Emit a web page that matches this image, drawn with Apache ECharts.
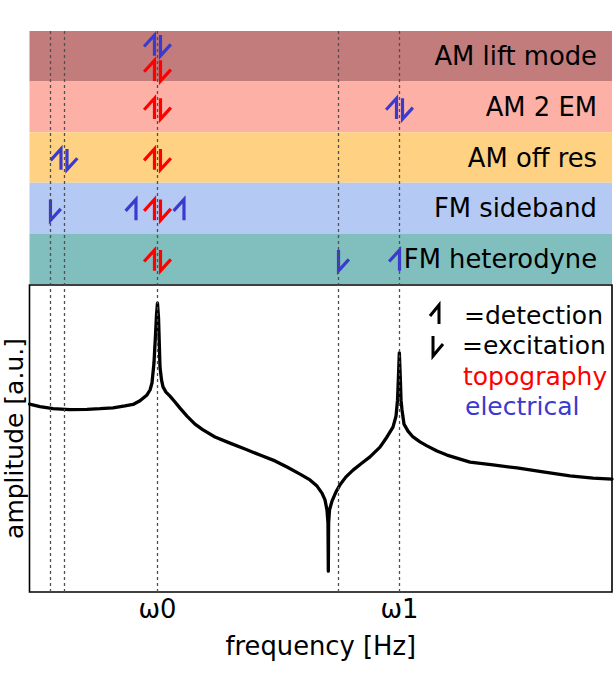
<!DOCTYPE html>
<html><head><meta charset="utf-8">
<script src="https://cdn.jsdelivr.net/npm/echarts@6/dist/echarts.min.js"></script>
<style>html,body{margin:0;padding:0;background:#fff}#c{width:614px;height:674px}</style>
</head><body><div id="c"></div>
<script>
// ---------- data ----------
const bandNames = ['AM lift mode', 'AM 2 EM', 'AM off res', 'FM sideband', 'FM heterodyne'];
const w0 = 21.97, w1 = 63.52;
const guideFreqs = [3.6, 5.92, w0, 53.05, w1];
const tickValues = [w0, w1];
const tickLabels = ['ω0', 'ω1'];
const freq = [0, 1.8, 4.03, 6.95, 9.87, 12.1, 14.33, 16.39, 17.77, 18.97, 20.17, 20.69, 21.03, 21.37, 21.63,
  21.8, 21.97, 22.15, 22.23, 22.4, 22.66, 22.92, 23.43, 24.12, 24.98, 25.84, 27.04, 28.41, 29.79, 31.85,
  34.42, 37.0, 39.57, 42.15, 44.21, 46.44, 48.15, 49.36, 50.21, 50.73, 51.07, 51.24, 51.3, 51.35, 51.5,
  51.93, 52.62, 53.3, 54.33, 55.54, 57.08, 58.45, 60.17, 61.37, 62.4, 62.92, 63.18, 63.35, 63.49, 63.66,
  63.78, 63.95, 64.29, 64.98, 65.84, 67.04, 68.24, 69.96, 71.67, 75.62, 79.57, 83.69, 88.15, 92.79, 96.74, 100];
const amp = [61.2, 60.4, 59.7, 59.4, 59.5, 59.7, 60.0, 60.6, 61.1, 62.3, 64.2, 65.8, 68.1, 74.6, 83.7,
  90.2, 94.1, 89.3, 84.4, 73.3, 69.1, 66.8, 65.1, 63.8, 61.9, 59.9, 57.3, 54.7, 52.8, 50.5,
  48.5, 46.6, 44.6, 42.7, 40.7, 38.4, 36.5, 34.5, 32.2, 30.0, 26.7, 22.5, 6.8, 22.5, 26.7,
  29.6, 32.6, 34.9, 37.5, 39.7, 42.0, 44.0, 47.2, 50.5, 53.7, 57.3, 62.5, 70.7, 77.9, 69.7,
  62.5, 59.3, 54.7, 52.4, 50.5, 48.9, 47.6, 45.9, 44.6, 42.3, 41.4, 40.4, 39.1, 37.8, 37.1, 36.8];
// harpoon marks: frequency, band row, lane (-1 upper, 0 middle, 1 lower), kind, signal
const markFreq   = [w0, w0, w0, w1, 5.92, w0, 3.6, 18.28, w0, 26.52, w0, 53.05, w1];
const markRow    = [0, 0, 1, 1, 2, 2, 3, 3, 3, 3, 4, 4, 4];
const markLane   = [-1, 1, 0, 0, 0, 0, 0, 0, 0, 0, 0, 0, 0];
const markKind   = ['pair', 'pair', 'pair', 'pair', 'pair', 'pair', 'exc', 'det', 'pair', 'det', 'pair', 'exc', 'det'];
const markSignal = ['electrical', 'topography', 'topography', 'electrical', 'electrical', 'topography',
  'electrical', 'electrical', 'topography', 'electrical', 'topography', 'electrical', 'electrical'];
const legendKinds = ['=detection', '=excitation'];
const signalNames = ['topography', 'electrical'];
const xName = 'frequency [Hz]';
const yName = 'amplitude [a.u.]';

// ---------- style ----------
const FONT = 'DejaVu Sans';
const FS = 25;
const FS_BAND = 25.8;
const bandColors = ['#c27c7c', '#fdb1a6', '#fed282', '#b4caf4', '#80bfbd'];
const signalColors = { topography: '#ff0000', electrical: '#3a3acf' };
const guideStyle = { type: [3, 3], color: '#505050', width: 1.3 };

function harpoon(kind, sx, cy, h, color) {
  const bw = h * 0.5, bh = h * 0.55;
  let pts;
  if (kind === 'det') pts = [[sx - bw, cy - h / 2 + bh], [sx, cy - h / 2], [sx, cy + h / 2]];
  else pts = [[sx, cy - h / 2], [sx, cy + h / 2], [sx + bw, cy + h / 2 - bh]];
  return { type: 'polyline', shape: { points: pts }, style: { stroke: color, lineWidth: 3.2, fill: null, lineJoin: 'miter' } };
}

const chart = echarts.init(document.getElementById('c'), null, { renderer: 'svg' });

const option = {
  animation: false,
  grid: [
    { left: 29.5, right: 2, top: 31, height: 253, containLabel: false, outerBoundsMode: 'none' },
    { left: 29.5, right: 2, top: 285, bottom: 82, containLabel: false, outerBoundsMode: 'none',
      show: true, borderColor: '#000', borderWidth: 1.6, backgroundColor: 'transparent' }
  ],
  xAxis: [
    { gridIndex: 0, type: 'value', min: 0, max: 100, show: false },
    { gridIndex: 1, type: 'value', min: 0, max: 100,
      axisLine: { show: false }, axisTick: { show: false }, splitLine: { show: false },
      axisLabel: {
        customValues: tickValues, margin: 4, fontSize: FS_BAND, fontFamily: FONT, color: '#000',
        formatter: function (v) {
          let best = 0;
          for (let i = 0; i < tickValues.length; i++) if (Math.abs(tickValues[i] - v) < Math.abs(tickValues[best] - v)) best = i;
          return tickLabels[best];
        }
      },
      name: xName, nameLocation: 'middle', nameGap: 41,
      nameTextStyle: { fontSize: FS_BAND, fontFamily: FONT, color: '#000' }
    }
  ],
  yAxis: [
    { gridIndex: 0, type: 'value', min: 0, max: 5, inverse: true, show: false },
    { gridIndex: 1, type: 'value', min: 0, max: 100,
      axisLine: { show: false }, axisTick: { show: false }, splitLine: { show: false }, axisLabel: { show: false },
      name: yName, nameLocation: 'middle', nameGap: 3,
      nameTextStyle: { fontSize: FS, fontFamily: FONT, color: '#000' }
    }
  ],
  series: [
    {
      type: 'custom', xAxisIndex: 0, yAxisIndex: 0, z: 1, silent: true,
      data: bandNames.map((n, i) => [0, i]),
      encode: { x: 0, y: 1 },
      renderItem: function (params, api) {
        const i = api.value(1);
        const cs = params.coordSys;
        const y0 = api.coord([0, i])[1], y1 = api.coord([0, i + 1])[1];
        return { type: 'group', children: [
          { type: 'rect', shape: { x: cs.x, y: Math.min(y0, y1), width: cs.width, height: Math.abs(y1 - y0) },
            style: { fill: bandColors[i] } },
          { type: 'text', x: cs.x + cs.width - 15, y: (y0 + y1) / 2,
            style: { text: bandNames[i], align: 'right', verticalAlign: 'middle', fontSize: FS_BAND, fontFamily: FONT, fill: '#000' } }
        ] };
      }
    },
    {
      type: 'custom', xAxisIndex: 0, yAxisIndex: 0, z: 3, silent: true,
      data: markFreq.map((f, i) => [f, markRow[i] + 0.535 + markLane[i] * 0.25]),
      encode: { x: 0, y: 1 },
      renderItem: function (params, api) {
        const k = params.dataIndex;
        const p = api.coord([api.value(0), api.value(1)]);
        const bandH = Math.abs(api.size([0, 1])[1]);
        const h = bandH * 0.41;
        const color = signalColors[markSignal[k]];
        const kind = markKind[k];
        let children;
        if (kind === 'pair') children = [harpoon('det', p[0] - 3, p[1], h, color), harpoon('exc', p[0] + 3, p[1], h, color)];
        else children = [harpoon(kind, p[0], p[1], h, color)];
        return { type: 'group', children: children };
      },
      markLine: {
        silent: true, symbol: ['none', 'none'], label: { show: false }, lineStyle: guideStyle,
        emphasis: { disabled: true },
        data: guideFreqs.map(v => ({ xAxis: v }))
      }
    },
    {
      type: 'line', xAxisIndex: 1, yAxisIndex: 1, z: 3, silent: true,
      data: freq.map((f, i) => [f, amp[i]]),
      showSymbol: false, symbol: 'none', smooth: false,
      lineStyle: { color: '#000', width: 3.3, join: 'round', cap: 'round' },
      markLine: {
        silent: true, symbol: ['none', 'none'], label: { show: false }, lineStyle: guideStyle,
        emphasis: { disabled: true },
        data: guideFreqs.map(v => ({ xAxis: v }))
      }
    }
  ],
  graphic: [
    { type: 'polyline', shape: { points: [[430, 316], [439, 305], [439, 324]] }, style: { stroke: '#000', lineWidth: 3, fill: null } },
    { type: 'polyline', shape: { points: [[433, 336], [433, 356], [443, 344]] }, style: { stroke: '#000', lineWidth: 3, fill: null } },
    { type: 'text', x: 464, y: 315, style: { text: legendKinds[0], fontSize: FS, fontFamily: FONT, fill: '#000', verticalAlign: 'middle' } },
    { type: 'text', x: 462, y: 345, style: { text: legendKinds[1], fontSize: FS, fontFamily: FONT, fill: '#000', verticalAlign: 'middle' } },
    { type: 'text', x: 463, y: 376, style: { text: signalNames[0], fontSize: FS, fontFamily: FONT, fill: signalColors.topography, verticalAlign: 'middle' } },
    { type: 'text', x: 465, y: 406, style: { text: signalNames[1], fontSize: FS, fontFamily: FONT, fill: signalColors.electrical, verticalAlign: 'middle' } }
  ]
};
chart.setOption(option);
</script>
</body></html>
